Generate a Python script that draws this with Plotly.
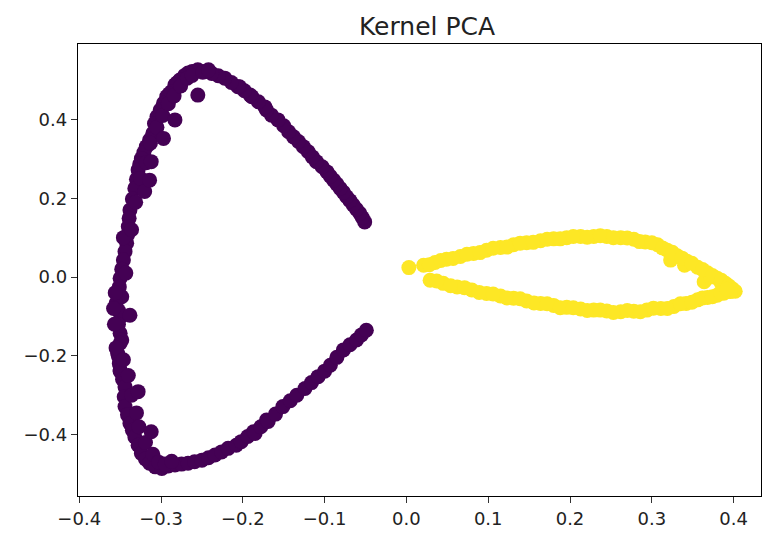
import plotly.graph_objects as go

# Class 0 (purple) points
x0 = [-0.051, -0.054, -0.057, -0.061, -0.065, -0.069, -0.073, -0.077, -0.081, -0.085, -0.089, -0.093,
      -0.097, -0.103, -0.110, -0.115, -0.120, -0.126, -0.132, -0.138, -0.144, -0.150, -0.157, -0.165,
      -0.171, -0.173, -0.181, -0.189, -0.191, -0.198, -0.204, -0.206, -0.214, -0.222, -0.230, -0.238,
      -0.246, -0.255, -0.262, -0.267, -0.271, -0.277, -0.280, -0.283, -0.287, -0.290, -0.293, -0.297,
      -0.301, -0.305, -0.308, -0.310, -0.314, -0.318, -0.321, -0.324, -0.326, -0.328, -0.330, -0.332,
      -0.335, -0.338, -0.339, -0.340, -0.341, -0.342, -0.344, -0.346, -0.348, -0.350, -0.351, -0.348,
      -0.355, -0.352, -0.349, -0.352, -0.350, -0.348, -0.350, -0.353, -0.352, -0.351, -0.350, -0.350,
      -0.347, -0.344, -0.345, -0.344, -0.341, -0.338, -0.335, -0.332, -0.328, -0.324, -0.319, -0.314,
      -0.307, -0.299, -0.291, -0.283, -0.275, -0.267, -0.259, -0.250, -0.242, -0.234, -0.226, -0.218,
      -0.208, -0.202, -0.194, -0.187, -0.185, -0.178, -0.171, -0.169, -0.160, -0.151, -0.142, -0.134,
      -0.124, -0.116, -0.108, -0.100, -0.093, -0.085, -0.077, -0.069, -0.061, -0.055, -0.049,
      -0.356, -0.358, -0.357, -0.355, -0.346, -0.343, -0.346, -0.336, -0.331, -0.325, -0.318, -0.313,
      -0.305, -0.298, -0.291, -0.284, -0.276, -0.268, -0.262, -0.249, -0.242, -0.340, -0.336, -0.330,
      -0.327, -0.319, -0.310, -0.303, -0.295, -0.287,
      -0.255, -0.283, -0.297, -0.312, -0.320, -0.314, -0.338, -0.328, -0.312]
y0 = [0.140, 0.151, 0.162, 0.172, 0.183, 0.194, 0.204, 0.215, 0.225, 0.236, 0.246, 0.256,
      0.267, 0.280, 0.293, 0.305, 0.318, 0.331, 0.344, 0.356, 0.369, 0.384, 0.399, 0.411,
      0.424, 0.432, 0.445, 0.458, 0.462, 0.473, 0.483, 0.483, 0.494, 0.505, 0.511, 0.517,
      0.522, 0.526, 0.522, 0.518, 0.512, 0.500, 0.494, 0.488, 0.471, 0.465, 0.458, 0.441,
      0.424, 0.407, 0.390, 0.365, 0.348, 0.331, 0.316, 0.301, 0.287, 0.272, 0.248, 0.225,
      0.198, 0.170, 0.149, 0.128, 0.107, 0.086, 0.065, 0.043, 0.020, -0.003, -0.025, -0.050,
      -0.067, -0.085, -0.101, -0.120, -0.143, -0.160, -0.168, -0.194, -0.202, -0.220, -0.236, -0.240,
      -0.260, -0.279, -0.304, -0.329, -0.350, -0.372, -0.389, -0.406, -0.427, -0.448, -0.462, -0.473,
      -0.482, -0.486, -0.480, -0.477, -0.475, -0.473, -0.469, -0.465, -0.459, -0.452, -0.444, -0.435,
      -0.427, -0.418, -0.405, -0.393, -0.397, -0.380, -0.363, -0.367, -0.348, -0.329, -0.314, -0.300,
      -0.283, -0.268, -0.253, -0.239, -0.224, -0.204, -0.185, -0.172, -0.160, -0.147, -0.135,
      -0.040, -0.080, -0.120, -0.180, -0.210, 0.010, 0.100, 0.120, 0.190, 0.250, 0.290, 0.340,
      0.380, 0.410, 0.440, 0.460, 0.485, 0.505, 0.512, 0.520, 0.526, -0.250, -0.300, -0.345,
      -0.380, -0.420, -0.450, -0.470, -0.475, -0.468,
      0.462, 0.399, 0.352, 0.293, 0.217, 0.246, -0.097, -0.291, -0.393]

# Class 1 (yellow) points
x1 = [0.003, 0.021, 0.035, 0.049, 0.066, 0.082, 0.098, 0.115, 0.131, 0.147, 0.164, 0.180,
      0.196, 0.213, 0.229, 0.245, 0.262, 0.278, 0.292, 0.307, 0.319, 0.331, 0.343, 0.356,
      0.368, 0.380, 0.390, 0.398, 0.402, 0.396, 0.388, 0.380, 0.368, 0.356, 0.342, 0.327,
      0.311, 0.294, 0.278, 0.262, 0.245, 0.229, 0.213, 0.196, 0.180, 0.164, 0.147, 0.131,
      0.115, 0.098, 0.080, 0.062, 0.045, 0.029, 0.364, 0.323, 0.340, 0.372, 0.385,
      0.028, 0.042, 0.057, 0.074, 0.090, 0.106, 0.123, 0.139, 0.155, 0.172, 0.188, 0.204,
      0.221, 0.237, 0.253, 0.270, 0.285, 0.300, 0.313, 0.325, 0.337, 0.349, 0.362, 0.374,
      0.385, 0.394,
      0.037, 0.054, 0.071, 0.089, 0.106, 0.123, 0.139, 0.156, 0.172, 0.188, 0.204, 0.221,
      0.237, 0.253, 0.270, 0.286, 0.302, 0.319, 0.335, 0.349, 0.362, 0.374, 0.384, 0.392]
y1 = [0.024, 0.030, 0.037, 0.045, 0.052, 0.060, 0.068, 0.075, 0.082, 0.087, 0.092, 0.097,
      0.100, 0.103, 0.103, 0.103, 0.100, 0.096, 0.089, 0.082, 0.068, 0.054, 0.040, 0.025,
      0.011, -0.003, -0.016, -0.029, -0.036, -0.037, -0.041, -0.046, -0.052, -0.058, -0.067, -0.075,
      -0.080, -0.084, -0.087, -0.088, -0.086, -0.084, -0.081, -0.077, -0.072, -0.067, -0.061, -0.054,
      -0.048, -0.042, -0.033, -0.025, -0.016, -0.008, -0.012, 0.043, 0.030, 0.000, -0.015,
      0.031, 0.042, 0.047, 0.058, 0.062, 0.073, 0.076, 0.086, 0.088, 0.096, 0.097, 0.103,
      0.101, 0.105, 0.100, 0.099, 0.090, 0.087, 0.074, 0.063, 0.048, 0.035, 0.019, 0.004,
      -0.008, -0.022,
      -0.010, -0.022, -0.027, -0.039, -0.043, -0.053, -0.055, -0.066, -0.068, -0.078, -0.078, -0.085,
      -0.084, -0.090, -0.085, -0.088, -0.079, -0.080, -0.068, -0.064, -0.053, -0.050, -0.040, -0.031]

x_ticks = [-0.4, -0.3, -0.2, -0.1, 0.0, 0.1, 0.2, 0.3, 0.4]
y_ticks = [-0.4, -0.2, 0.0, 0.2, 0.4]

fig = go.Figure()
fig.add_trace(go.Scatter(x=x0, y=y0, mode="markers",
                         marker=dict(color="#440154", size=15, line=dict(width=0)),
                         showlegend=False))
fig.add_trace(go.Scatter(x=x1, y=y1, mode="markers",
                         marker=dict(color="#fde725", size=15, line=dict(width=0)),
                         showlegend=False))

axis_common = dict(showline=True, linecolor="black", linewidth=1.3, mirror=True,
                   ticks="outside", ticklen=6, tickwidth=1.2, tickcolor="#333",
                   showgrid=False, zeroline=False, tickformat=".1f",
                   tickfont=dict(family="DejaVu Sans", size=18, color="#222"))

fig.update_layout(
    width=763, height=536,
    margin=dict(l=78, r=2, t=44, b=40),
    plot_bgcolor="white", paper_bgcolor="white",
    title=dict(text="Kernel PCA", x=427/763, xanchor="center", y=1 - 26/536, yanchor="middle",
               font=dict(family="DejaVu Sans", size=25, color="#222")),
    xaxis=dict(range=[-0.4015, 0.4335], tickvals=x_ticks, **axis_common),
    yaxis=dict(range=[-0.556, 0.5917], tickvals=y_ticks, **axis_common),
)

fig.write_html("out.html")
